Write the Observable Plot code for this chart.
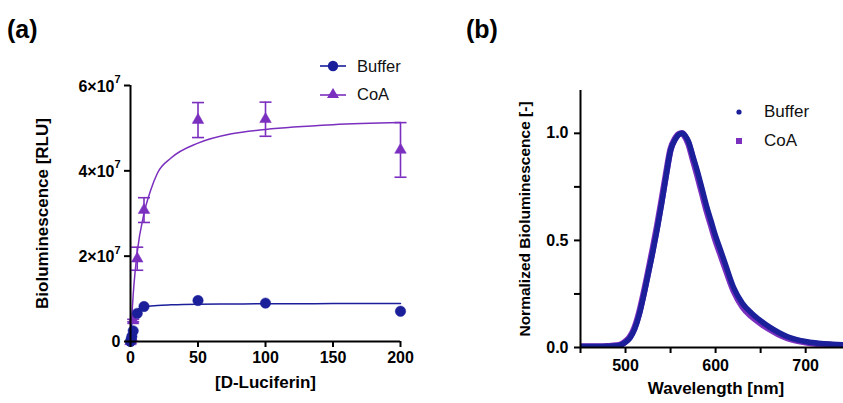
<!DOCTYPE html>
<html>
<head>
<meta charset="utf-8">
<script src="https://cdn.jsdelivr.net/npm/d3@7"></script>
<script src="https://cdn.jsdelivr.net/npm/@observablehq/plot@0.6"></script>
<style>
  html, body { margin: 0; padding: 0; background: #fff; }
  #root { position: relative; width: 843px; height: 403px; overflow: hidden; font-family: 'Liberation Sans', Arial, sans-serif; }
  .panel { position: absolute; top: 0; }
  .tag { position: absolute; font-weight: bold; font-size: 25px; line-height: 25px; color: #000; }
  .leg { position: absolute; font-size: 16.5px; line-height: 20px; color: #111; }
  .sym { position: absolute; }
</style>
</head>
<body>
<div id="root"></div>
<script>
// ---------- Panel (a): saturation curves ----------
const conc = [0, 0.5, 1, 2, 5, 10, 50, 100, 200];
const bufferRLU = [0, 0.5e6, 1.2e6, 2.5e6, 6.6e6, 8.2e6, 9.6e6, 9.0e6, 7.1e6];
const coaRLU = [0, 0.3e6, 0.8e6, 4.9e6, 19.4e6, 30.8e6, 51.9e6, 52.1e6, 44.9e6];
const coaErr = [0, 0, 0, 0.3e6, 2.7e6, 2.9e6, 4.1e6, 4.0e6, 6.4e6];

const fitConc = [0, 1, 2, 5, 10, 15, 20, 30, 50, 75, 100, 150, 200];
const bufferFit = [0, 4.5e6, 6.0e6, 7.4e6, 8.1e6, 8.3e6, 8.45e6, 8.6e6, 8.75e6, 8.8e6, 8.85e6, 8.88e6, 8.9e6];
const coaFit = [0, 0.6e7, 1.1e7, 2.1e7, 3.0e7, 3.55e7, 3.95e7, 4.3e7, 4.65e7, 4.87e7, 4.97e7, 5.08e7, 5.13e7];

const xTicksA = [0, 50, 100, 150, 200];
const yTicksA = [0, 2e7, 4e7, 6e7];

// ---------- Panel (b): emission spectra ----------
const wavelength = [450, 460, 470, 480, 490, 495, 500, 505, 510, 515, 520, 525, 530, 535, 540, 545, 550, 555, 560, 563, 566, 570, 575, 580, 585, 590, 595, 600, 605, 610, 620, 630, 640, 650, 660, 670, 680, 690, 700, 710, 720, 730, 742];
const bufferSpec = [0.005, 0.005, 0.005, 0.006, 0.008, 0.012, 0.025, 0.045, 0.085, 0.15, 0.24, 0.34, 0.44, 0.55, 0.67, 0.80, 0.92, 0.97, 0.997, 1.0, 0.99, 0.96, 0.89, 0.82, 0.74, 0.66, 0.59, 0.52, 0.46, 0.40, 0.28, 0.205, 0.16, 0.125, 0.095, 0.07, 0.05, 0.037, 0.028, 0.022, 0.018, 0.015, 0.013];
const coaSpec = [0.005, 0.005, 0.005, 0.006, 0.009, 0.014, 0.028, 0.05, 0.092, 0.16, 0.25, 0.35, 0.455, 0.565, 0.685, 0.81, 0.925, 0.975, 0.998, 1.0, 0.985, 0.95, 0.875, 0.80, 0.72, 0.64, 0.57, 0.50, 0.44, 0.38, 0.265, 0.19, 0.145, 0.113, 0.085, 0.062, 0.044, 0.032, 0.024, 0.018, 0.014, 0.011, 0.010];

const xTicksB = [450, 500, 550, 600, 650, 700];
const xLabelsB = [500, 600, 700];
const yTicksB = [0, 0.25, 0.5, 0.75, 1.0];
const yLabelsB = [0, 0.5, 1.0];

const seriesNames = ["Buffer", "CoA"];
const NAVY = "#1b1f9a";
const PURPLE = "#7b2fbf";

const pts = (xs, ys, name) => xs.map((x, i) => ({x, y: ys[i], series: name}));
const bufPts = pts(conc, bufferRLU, "Buffer");
const coaPts = conc.map((x, i) => ({x, y: coaRLU[i], lo: coaRLU[i] - coaErr[i], hi: coaRLU[i] + coaErr[i], series: "CoA"}));
const errPts = coaPts.filter(d => d.hi > d.lo);
const bufFitPts = pts(fitConc, bufferFit, "Buffer");
const coaFitPts = pts(fitConc, coaFit, "CoA");

const capSymbol = {draw(ctx, size) { ctx.moveTo(-6, 0); ctx.lineTo(6, 0); }};
const yZero = yTicksA.filter(d => d === 0);
const yPow = yTicksA.filter(d => d !== 0);

const FONT = "'Liberation Sans', Arial, sans-serif";
const TICKFONT = 16;
const blank = () => "";

const chartA = Plot.plot({
  width: 420, height: 403,
  marginLeft: 130, marginRight: 20, marginTop: 85, marginBottom: 62,
  style: {fontFamily: FONT, fontSize: "16px", fontWeight: "bold", color: "#000", background: "transparent", overflow: "visible"},
  x: {domain: [0, 200]},
  y: {domain: [0, 6e7]},
  marks: [
    Plot.line(coaFitPts, {x: "x", y: "y", stroke: PURPLE, strokeWidth: 1.5, curve: "monotone-x"}),
    Plot.line(bufFitPts, {x: "x", y: "y", stroke: NAVY, strokeWidth: 1.5, curve: "monotone-x"}),
    Plot.ruleX(errPts, {x: "x", y1: "lo", y2: "hi", stroke: PURPLE, strokeWidth: 1.6}),
    Plot.dot(errPts, {x: "x", y: "hi", symbol: capSymbol, stroke: PURPLE, strokeWidth: 1.6, fill: "none"}),
    Plot.dot(errPts, {x: "x", y: "lo", symbol: capSymbol, stroke: PURPLE, strokeWidth: 1.6, fill: "none"}),
    Plot.dot(coaPts, {x: "x", y: "y", symbol: "triangle", r: 4.3, fill: PURPLE, stroke: PURPLE, strokeWidth: 0.5}),
    Plot.dot(bufPts, {x: "x", y: "y", r: 5.2, fill: NAVY, stroke: NAVY, strokeWidth: 0.5}),
    Plot.ruleX([0], {stroke: "#000", strokeWidth: 2}),
    Plot.ruleY([0], {stroke: "#000", strokeWidth: 2}),
    Plot.axisX({ticks: xTicksA, tickFormat: blank, tickSize: 6, strokeWidth: 2, label: null}),
    Plot.axisY({ticks: yTicksA, tickFormat: blank, tickSize: 6, strokeWidth: 2, label: null}),
    Plot.text(xTicksA, {x: d => d, text: d => String(d), frameAnchor: "bottom", dy: 21, textAnchor: "middle", fontSize: TICKFONT, fontWeight: "bold"}),
    Plot.text(yZero, {y: d => d, text: d => "0", frameAnchor: "left", dx: -10, textAnchor: "end", fontSize: TICKFONT, fontWeight: "bold"}),
    Plot.text(yPow, {y: d => d, text: d => `${d / 1e7}×10`, frameAnchor: "left", dx: -16, dy: 1, textAnchor: "end", fontSize: TICKFONT, fontWeight: "bold"}),
    Plot.text(yPow, {y: d => d, text: d => "7", frameAnchor: "left", dx: -10, dy: -6, textAnchor: "end", fontSize: 11, fontWeight: "bold"}),
    Plot.text(["Bioluminescence [RLU]"], {frameAnchor: "left", dx: -88, rotate: -90, textAnchor: "middle", fontSize: 17, fontWeight: "bold"}),
    Plot.text(["[D-Luciferin]"], {frameAnchor: "bottom", dy: 46, textAnchor: "middle", fontSize: 17, fontWeight: "bold"})
  ]
});

const bufSpecPts = pts(wavelength, bufferSpec, "Buffer");
const coaSpecPts = pts(wavelength, coaSpec, "CoA");

const chartB = Plot.plot({
  width: 423, height: 403,
  marginLeft: 160, marginRight: 0, marginTop: 90, marginBottom: 56,
  style: {fontFamily: FONT, fontSize: "16px", fontWeight: "bold", color: "#000", background: "transparent", overflow: "visible"},
  x: {domain: [450, 742]},
  y: {domain: [0, 1.2]},
  marks: [
    Plot.line(coaSpecPts, {x: "x", y: "y", stroke: PURPLE, strokeWidth: 6.5, curve: "monotone-x", clip: true}),
    Plot.line(bufSpecPts, {x: "x", y: "y", stroke: NAVY, strokeWidth: 5.5, curve: "monotone-x", clip: true}),
    Plot.ruleX([450], {stroke: "#000", strokeWidth: 2}),
    Plot.ruleY([0], {stroke: "#000", strokeWidth: 2}),
    Plot.axisX({ticks: xTicksB, tickFormat: blank, tickSize: 6, strokeWidth: 2, label: null}),
    Plot.axisY({ticks: yTicksB, tickFormat: blank, tickSize: 6, strokeWidth: 2, label: null}),
    Plot.text(xLabelsB, {x: d => d, text: d => String(d), frameAnchor: "bottom", dy: 23, textAnchor: "middle", fontSize: TICKFONT, fontWeight: "bold"}),
    Plot.text(yLabelsB, {y: d => d, text: d => d.toFixed(1), frameAnchor: "left", dx: -12, textAnchor: "end", fontSize: TICKFONT, fontWeight: "bold"}),
    Plot.text(["Normalized Bioluminescence [-]"], {frameAnchor: "left", dx: -55, rotate: -90, textAnchor: "middle", fontSize: 15.5, fontWeight: "bold"}),
    Plot.text(["Wavelength [nm]"], {frameAnchor: "bottom", dx: 4, dy: 46, textAnchor: "middle", fontSize: 17, fontWeight: "bold"})
  ]
});

const root = document.getElementById("root");
chartA.classList.add("panel"); chartA.style.left = "0px";
chartB.classList.add("panel"); chartB.style.left = "420px";
root.appendChild(chartA);
root.appendChild(chartB);

function addDiv(cls, text, left, top, extra = {}) {
  const d = document.createElement("div");
  d.className = cls; d.textContent = text;
  d.style.left = left + "px"; d.style.top = top + "px";
  Object.assign(d.style, extra);
  root.appendChild(d);
}
function addSvg(left, top, w, h, inner) {
  const s = document.createElementNS("http://www.w3.org/2000/svg", "svg");
  s.setAttribute("class", "sym");
  s.setAttribute("width", w); s.setAttribute("height", h);
  s.style.left = left + "px"; s.style.top = top + "px";
  s.innerHTML = inner;
  root.appendChild(s);
}

addDiv("tag", "(a)", 7, 17);
addDiv("tag", "(b)", 466, 17);

// Legend (a)
addSvg(318, 56, 30, 20, `<line x1="2" y1="10" x2="28" y2="10" stroke="${NAVY}" stroke-width="1.6"/><circle cx="15" cy="10" r="5.2" fill="${NAVY}"/>`);
addSvg(318, 84, 30, 20, `<line x1="2" y1="11" x2="28" y2="11" stroke="${PURPLE}" stroke-width="1.6"/><path d="M15,4 L21,14 L9,14 Z" fill="${PURPLE}"/>`);
addDiv("leg", seriesNames[0], 357, 56);
addDiv("leg", seriesNames[1], 357, 84);

// Legend (b)
addSvg(732, 105, 14, 14, `<circle cx="7" cy="7" r="2.6" fill="${NAVY}"/>`);
addSvg(732, 134, 14, 14, `<rect x="4" y="4" width="6" height="6" fill="${PURPLE}"/>`);
addDiv("leg", seriesNames[0], 764, 102, {fontSize: "17px"});
addDiv("leg", seriesNames[1], 764, 131, {fontSize: "17px"});
</script>
</body>
</html>
